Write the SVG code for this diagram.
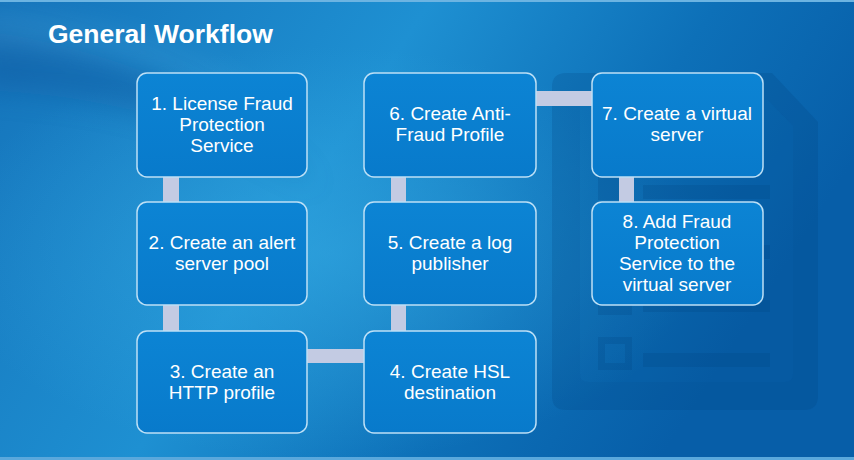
<svg xmlns="http://www.w3.org/2000/svg" width="854" height="460" viewBox="0 0 854 460">
<defs>
<linearGradient id="bg" x1="0" y1="0" x2="1" y2="0.35">
<stop offset="0" stop-color="#1573ba"/>
<stop offset="0.45" stop-color="#1e90d2"/>
<stop offset="0.75" stop-color="#0d70b8"/>
<stop offset="1" stop-color="#075ea8"/>
</linearGradient>
<radialGradient id="glow" cx="0.38" cy="0.55" r="0.45">
<stop offset="0" stop-color="#3ab0e6" stop-opacity="0.5"/>
<stop offset="1" stop-color="#3ab0e6" stop-opacity="0"/>
</radialGradient>
<linearGradient id="box" x1="0" y1="0" x2="0" y2="1">
<stop offset="0" stop-color="#0c84d4"/>
<stop offset="1" stop-color="#087acb"/>
</linearGradient>
<filter id="soft" x="-20%" y="-20%" width="140%" height="140%">
<feGaussianBlur stdDeviation="14"/>
</filter>
<style>
.node rect{fill:url(#box);stroke:#bde0f6;stroke-width:1.5}
.node text{fill:#ffffff;font-family:"Liberation Sans",Arial,sans-serif;font-size:19px;text-anchor:middle}
.bar{fill:#c3cbe3}
.doc{fill:#02407e;opacity:0.2}
.doc2{fill:#02407e;opacity:0.12}
</style>
</defs>
<rect width="854" height="460" fill="url(#bg)"/>
<rect width="854" height="460" fill="url(#glow)"/>
<path d="M-20 30 C120 50 240 100 320 190 C240 130 110 95 -20 90 Z" fill="#0a4f95" opacity="0.35" filter="url(#soft)"/>
<path d="M-20 10 C100 20 200 50 280 110 C200 70 100 50 -20 45 Z" fill="#6cc0ec" opacity="0.18" filter="url(#soft)"/>
<rect x="0" y="0" width="854" height="2" fill="#6cb4e2"/>
<rect x="0" y="457" width="854" height="3" fill="#5aa8dc"/>
<g id="document-icon">
<path class="doc" fill-rule="evenodd" d="M566 73 H772 L818 122 V396 Q818 410 804 410 H566 Q552 410 552 396 V87 Q552 73 566 73 Z M588 100 H768 L793 126 V374 Q793 382 785 382 H588 Q580 382 580 374 V108 Q580 100 588 100 Z"/>
<path class="doc2" d="M588 100 H768 L793 126 V374 Q793 382 785 382 H588 Q580 382 580 374 V108 Q580 100 588 100 Z"/>
<rect class="doc" x="598" y="175" width="34" height="25"/>
<rect class="doc" x="643" y="185" width="127" height="14"/>
<rect class="doc" x="598" y="237" width="34" height="25"/>
<rect class="doc" x="643" y="245" width="127" height="14"/>
<rect class="doc" x="598" y="293" width="34" height="22"/>
<rect class="doc" x="643" y="300" width="127" height="12"/>
<path class="doc" d="M598 337 H632 V370 H598 Z M605 344 V363 H625 V344 Z" fill-rule="evenodd"/>
<rect class="doc" x="643" y="353" width="127" height="14"/>
</g>
<text x="48" y="43" fill="#ffffff" font-family="'Liberation Sans',Arial,sans-serif" font-weight="bold" font-size="26.5">General Workflow</text>
<g id="connectors">
<rect class="bar" x="163" y="177" width="16" height="25"/>
<rect class="bar" x="163" y="305" width="16" height="26"/>
<rect class="bar" x="307" y="349" width="57" height="14"/>
<rect class="bar" x="391" y="305" width="15" height="26"/>
<rect class="bar" x="391" y="177" width="15" height="25"/>
<rect class="bar" x="536" y="91" width="56" height="15"/>
<rect class="bar" x="619" y="177" width="15" height="25"/>
</g>
<g id="node1" class="node">
<rect x="137" y="73" width="170" height="104" rx="10"/>
<text x="222" y="110">1. License Fraud</text>
<text x="222" y="131">Protection</text>
<text x="222" y="152">Service</text>
</g>
<g id="node2" class="node">
<rect x="137" y="202" width="170" height="103" rx="10"/>
<text x="222" y="249">2. Create an alert</text>
<text x="222" y="270">server pool</text>
</g>
<g id="node3" class="node">
<rect x="137" y="331" width="170" height="102" rx="10"/>
<text x="222" y="378">3. Create an</text>
<text x="222" y="399">HTTP profile</text>
</g>
<g id="node4" class="node">
<rect x="364" y="331" width="172" height="102" rx="10"/>
<text x="450" y="378">4. Create HSL</text>
<text x="450" y="399">destination</text>
</g>
<g id="node5" class="node">
<rect x="364" y="202" width="172" height="103" rx="10"/>
<text x="450" y="249">5. Create a log</text>
<text x="450" y="270">publisher</text>
</g>
<g id="node6" class="node">
<rect x="364" y="73" width="172" height="104" rx="10"/>
<text x="450" y="120">6. Create Anti-</text>
<text x="450" y="141">Fraud Profile</text>
</g>
<g id="node7" class="node">
<rect x="592" y="73" width="171" height="104" rx="10"/>
<text x="677" y="120">7. Create a virtual</text>
<text x="677" y="141">server</text>
</g>
<g id="node8" class="node">
<rect x="592" y="202" width="171" height="103" rx="10"/>
<text x="677" y="228">8. Add Fraud</text>
<text x="677" y="249">Protection</text>
<text x="677" y="270">Service to the</text>
<text x="677" y="291">virtual server</text>
</g>
</svg>
